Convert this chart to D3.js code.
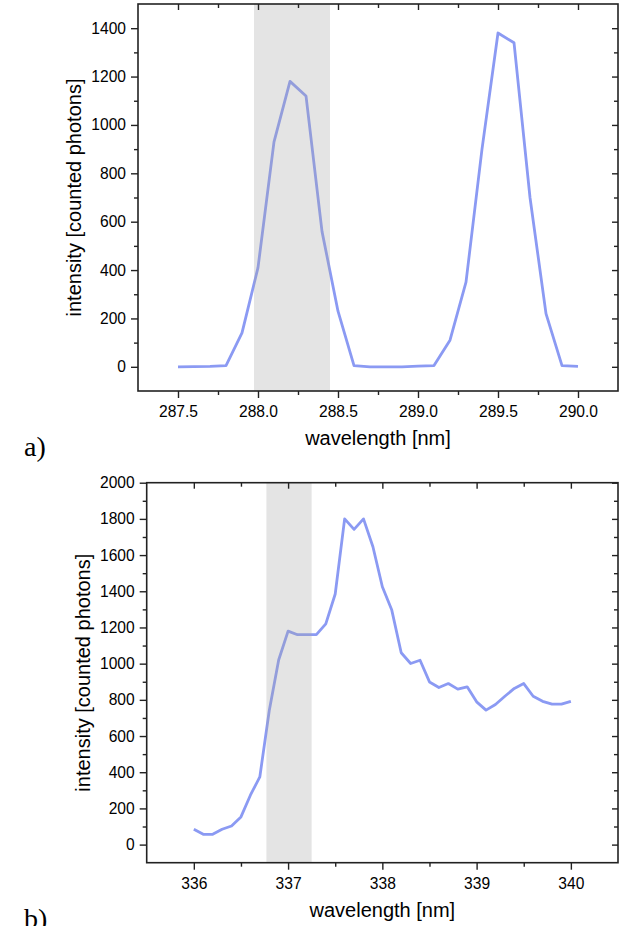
<!DOCTYPE html>
<html>
<head>
<meta charset="utf-8">
<script src="https://cdn.jsdelivr.net/npm/d3@7"></script>
<style>
  body { margin: 0; background: #fff; }
  svg { display: block; }
  .tick text { font-family: "Liberation Sans", Arial, sans-serif; font-size: 15.6px; fill: #000; }
  .title { font-family: "Liberation Sans", Arial, sans-serif; font-size: 20px; fill: #000; }
  .panel { font-family: "Liberation Serif", "Times New Roman", serif; font-size: 28px; fill: #000; }
</style>
</head>
<body>
<svg id="chart" width="627" height="926"></svg>
<script>
// panel a)
const wavelengthA = [287.5, 287.6, 287.7, 287.8, 287.9, 288.0, 288.1, 288.2, 288.3, 288.4, 288.5, 288.6, 288.7,
  288.8, 288.9, 289.0, 289.1, 289.2, 289.3, 289.4, 289.5, 289.6, 289.7, 289.8, 289.9, 290.0];
const intensityA = [0, 1, 2, 5, 140, 410, 930, 1180, 1120, 560, 230, 5, 0,
  0, 0, 3, 5, 110, 350, 900, 1380, 1340, 700, 220, 5, 2];
const xTicksA = [287.5, 288.0, 288.5, 289.0, 289.5, 290.0];
const yTicksA = [0, 200, 400, 600, 800, 1000, 1200, 1400];
const bandA = [287.975, 288.45];

// panel b)
const wavelengthB = [336.0, 336.1, 336.2, 336.3, 336.4, 336.5, 336.6, 336.7, 336.8, 336.9,
  337.0, 337.1, 337.2, 337.3, 337.4, 337.5, 337.6, 337.7, 337.8, 337.9,
  338.0, 338.1, 338.2, 338.3, 338.4, 338.5, 338.6, 338.7, 338.8, 338.9,
  339.0, 339.1, 339.2, 339.3, 339.4, 339.5, 339.6, 339.7, 339.8, 339.9, 340.0];
const intensityB = [85, 57, 57, 85, 103, 153, 273, 374, 740, 1020,
  1180, 1160, 1160, 1160, 1220, 1385, 1800, 1742, 1800, 1646,
  1425, 1296, 1060, 1001, 1019, 899, 868, 890, 859, 872,
  789, 743, 774, 820, 863, 890, 820, 792, 776, 776, 792];
const xTicksB = [336, 337, 338, 339, 340];
const yTicksB = [0, 200, 400, 600, 800, 1000, 1200, 1400, 1600, 1800, 2000];
const bandB = [336.77, 337.25];

const svg = d3.select('#chart');
const lineColor = '#8b9af3';

function drawPanel(opt) {
  const g = svg.append('g');
  const x = d3.scaleLinear().domain(opt.xDomain).range([opt.left, opt.right]);
  const y = d3.scaleLinear().domain(opt.yDomain).range([opt.bottom, opt.top]);

  const xMinor = opt.xMinor;
  const yMinor = d3.range(opt.yDomain[0] + 100, opt.yDomain[1], 100).filter(v => v % 200 !== 0);
  const fmt = opt.xFormat;

  // data line
  const pts = opt.xs.map((v, i) => [v, opt.ys[i]]);
  g.append('path')
    .datum(pts)
    .attr('fill', 'none')
    .attr('stroke', lineColor)
    .attr('stroke-width', 2.8)
    .attr('stroke-linejoin', 'round')
    .attr('d', d3.line().x(d => x(d[0])).y(d => y(d[1])));

  // shaded region, drawn over the line
  g.append('rect')
    .attr('x', x(opt.band[0]))
    .attr('width', x(opt.band[1]) - x(opt.band[0]))
    .attr('y', opt.top)
    .attr('height', opt.bottom - opt.top)
    .attr('fill', '#a5a5a5')
    .attr('fill-opacity', 0.3);

  const axisStyle = sel => {
    sel.select('.domain').remove();
    sel.selectAll('line').attr('stroke', '#222').attr('stroke-width', 1.4);
  };

  // bottom
  g.append('g').attr('transform', `translate(0,${opt.bottom})`)
    .call(d3.axisBottom(x).tickValues(opt.xTicks).tickFormat(fmt).tickSize(7).tickPadding(8))
    .call(axisStyle);
  g.append('g').attr('transform', `translate(0,${opt.bottom})`)
    .call(d3.axisBottom(x).tickValues(xMinor).tickFormat('').tickSize(4))
    .call(axisStyle);
  // top (inward)
  g.append('g').attr('transform', `translate(0,${opt.top})`)
    .call(d3.axisTop(x).tickValues(opt.xTicks).tickFormat('').tickSize(-6))
    .call(axisStyle);
  g.append('g').attr('transform', `translate(0,${opt.top})`)
    .call(d3.axisTop(x).tickValues(xMinor).tickFormat('').tickSize(-4))
    .call(axisStyle);
  // left
  g.append('g').attr('transform', `translate(${opt.left},0)`)
    .call(d3.axisLeft(y).tickValues(opt.yTicks).tickFormat(d3.format('d')).tickSize(7).tickPadding(5))
    .call(axisStyle);
  g.append('g').attr('transform', `translate(${opt.left},0)`)
    .call(d3.axisLeft(y).tickValues(yMinor).tickFormat('').tickSize(4))
    .call(axisStyle);
  // right (inward)
  g.append('g').attr('transform', `translate(${opt.right},0)`)
    .call(d3.axisRight(y).tickValues(opt.yTicks).tickFormat('').tickSize(-6))
    .call(axisStyle);
  g.append('g').attr('transform', `translate(${opt.right},0)`)
    .call(d3.axisRight(y).tickValues(yMinor).tickFormat('').tickSize(-4))
    .call(axisStyle);

  // frame
  g.append('rect')
    .attr('x', opt.left).attr('y', opt.top)
    .attr('width', opt.right - opt.left).attr('height', opt.bottom - opt.top)
    .attr('fill', 'none').attr('stroke', '#222').attr('stroke-width', 1.6);

  // titles
  g.append('text').attr('class', 'title')
    .attr('x', (opt.left + opt.right) / 2).attr('y', opt.bottom + 54)
    .attr('text-anchor', 'middle')
    .text('wavelength [nm]');
  g.append('text').attr('class', 'title')
    .attr('transform', `translate(${opt.yTitleX},${(opt.top + opt.bottom) / 2}) rotate(-90)`)
    .attr('text-anchor', 'middle')
    .text('intensity [counted photons]');

  g.append('text').attr('class', 'panel')
    .attr('x', 24).attr('y', opt.bottom + 65)
    .text(opt.label);
}

drawPanel({
  xs: wavelengthA, ys: intensityA,
  xDomain: [287.25, 290.25], yDomain: [-100, 1500],
  xTicks: xTicksA, xMinor: [287.75, 288.25, 288.75, 289.25, 289.75],
  yTicks: yTicksA, band: bandA,
  xFormat: d3.format('.1f'),
  left: 138, right: 618, top: 4, bottom: 391,
  yTitleX: 81, label: 'a)'
});

drawPanel({
  xs: wavelengthB, ys: intensityB,
  xDomain: [335.5, 340.5], yDomain: [-100, 2000],
  xTicks: xTicksB, xMinor: [336.5, 337.5, 338.5, 339.5],
  yTicks: yTicksB, band: bandB,
  xFormat: d3.format('d'),
  left: 146.7, right: 618, top: 482.7, bottom: 862.7,
  yTitleX: 90, label: 'b)'
});
</script>
</body>
</html>
